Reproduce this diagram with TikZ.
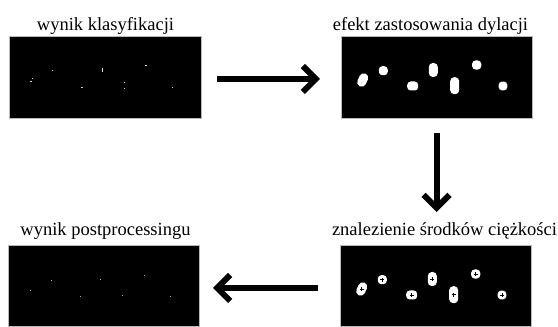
\documentclass[tikz,border=0pt]{standalone}
\usepackage{fontspec}
\setmainfont{Liberation Serif}
\usetikzlibrary{arrows.meta}
\tikzset{
  imgbox/.style={fill=black, draw=gray!55, line width=0.6pt, inner sep=0pt, outer sep=0pt, anchor=north west},
  caption/.style={anchor=base, inner sep=0pt, font=\fontsize{18.5}{22}\selectfont},
  bigarrow/.style={line width=6pt, -{Straight Barb[length=13pt, width=26pt, line width=6pt]}},
  pics/dilated/.style={code={
    \fill[white, rounded corners=4.5pt, rotate around={-25:(21.7,-44)}] (17.2,-51) rectangle (26.2,-37);
    \fill[white, rounded corners=3.5pt] (37.8,-39.2) rectangle (46.8,-30.2);
    \fill[white, rounded corners=3.5pt] (66.2,-54.5) rectangle (77.2,-45.5);
    \fill[white, rounded corners=4pt] (87.8,-41) rectangle (96.8,-27);
    \fill[white, rounded corners=4pt] (109.2,-58.2) rectangle (118.2,-41.2);
    \fill[white, rounded corners=4pt] (131,-33.7) rectangle (140.4,-24.3);
    \fill[white, rounded corners=3.5pt] (157.6,-54.4) rectangle (166.4,-45.6);
  }},
  pics/crosses/.style={code={
    \foreach \cx/\cy in {21.7/-44, 42.3/-34.7, 71.7/-50, 92.3/-34, 113.7/-49.7, 135.7/-29, 162/-50}
      \draw[black, line width=0.9pt] (\cx-2,\cy) -- (\cx+2,\cy) (\cx,\cy-2) -- (\cx,\cy+2);
  }},
  pics/specks/.style={code={
    \fill[white!85!black] (21.2,-46.5) rectangle +(1.3,1.3);
    \fill[white!85!black] (22.8,-43.5) rectangle +(1.3,1.3);
    \fill[white!85!black] (42.8,-35.5) rectangle +(1.2,1.2);
    \fill[white!85!black] (92.6,-36.5) rectangle +(1,4.5);
    \fill[white!80!black] (71.8,-51.8) rectangle +(2,1);
    \fill[white!85!black] (114.5,-47.5) rectangle +(1.2,1.2);
    \fill[white!85!black] (114.5,-53.5) rectangle +(1.2,1.2);
    \fill[white!85!black] (136.2,-30.2) rectangle +(1.4,1.4);
    \fill[white!85!black] (162.8,-51.8) rectangle +(1,1);
  }},
  pics/points/.style={code={
    \foreach \cx/\cy in {22.7/-45.3, 43/-35.7, 72.3/-51.3, 92.7/-34.7, 114.7/-50.3, 136.3/-30.7, 162.7/-51.3}
      \fill[white!70!black] (\cx-0.5,\cy-0.5) rectangle +(1,1);
  }}
}
\begin{document}
\begin{tikzpicture}[x=1pt, y=1pt]
\useasboundingbox (0,0) rectangle (558,327);
% image boxes
\node[imgbox, minimum width=192pt, minimum height=82pt] (tl) at (9,291) {};
\node[imgbox, minimum width=191pt, minimum height=82pt] (tr) at (341,291) {};
\node[imgbox, minimum width=191pt, minimum height=81pt] (br) at (340,82) {};
\node[imgbox, minimum width=191pt, minimum height=81pt] (bl) at (8,82) {};
% contents
\pic at (tl.north west) {specks};
\pic at (tr.north west) {dilated};
\pic at (br.north west) {dilated};
\pic at (br.north west) {crosses};
\pic at (bl.north west) {points};
% captions
\node[caption] (ctl) at (105.5,296) {wynik klasyfikacji};
\node[caption] (ctr) at (430.5,296) {efekt zastosowania dylacji};
\node[caption] (cbr) at (444.5,91) {znalezienie środków ciężkości};
\node[caption] (cbl) at (105.5,91) {wynik postprocessingu};
% arrows
\draw[bigarrow, shorten <=16pt, shorten >=21pt] ([yshift=-2pt]tl.east) -- ([yshift=-2pt]tr.west);
\draw[bigarrow, shorten <=15pt, shorten >=33pt] (tr.south) -- (tr.south |- br.north);
\draw[bigarrow, shorten <=22pt, shorten >=14pt] ([yshift=-2.5pt]br.west) -- ([yshift=-2.5pt]bl.east);
\end{tikzpicture}
\end{document}
